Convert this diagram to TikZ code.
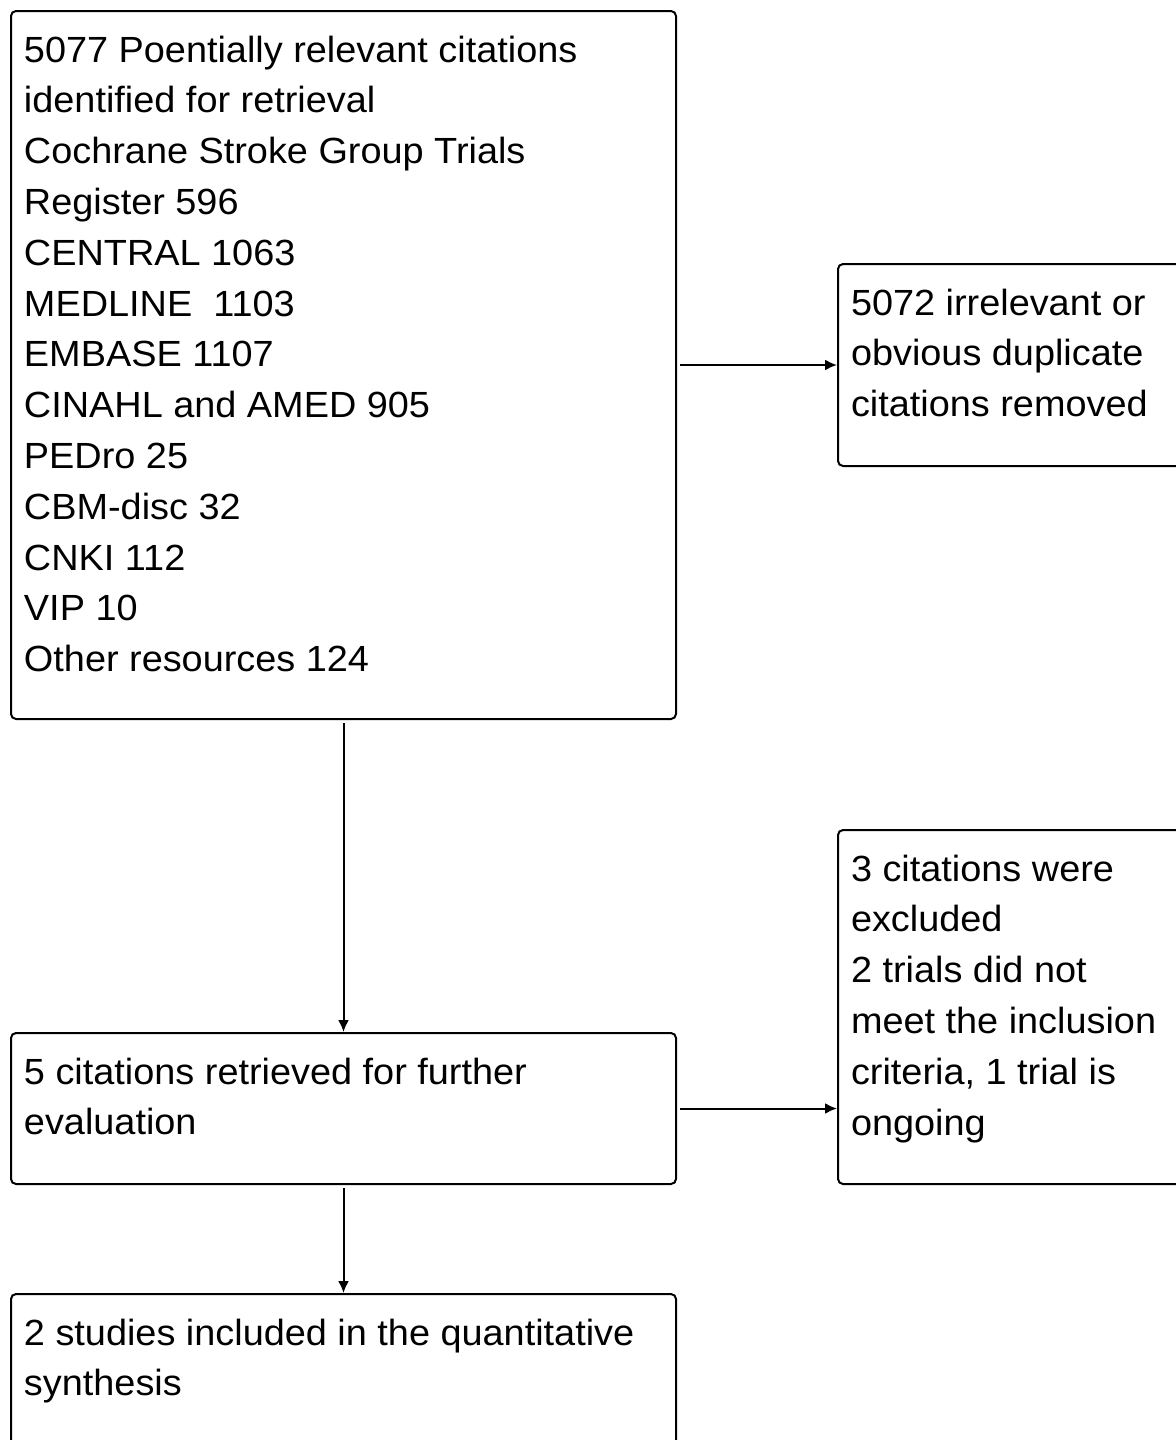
\documentclass[tikz,border=0pt]{standalone}
\usepackage{fontspec}
\setmainfont{Liberation Sans}[FakeStretch=1.04]
\usetikzlibrary{arrows.meta}
\newcommand{\boxtext}[3]{\parbox[t][#2][t]{#1}{\rule{0pt}{25.5pt}#3}}
\begin{document}
\begin{tikzpicture}[x=0.5pt,y=-0.5pt,font=\fontsize{18.2}{25.4}\selectfont,
  box/.style={draw, line width=1pt, rounded corners=2.5pt, anchor=north west, inner xsep=6.5pt, inner ysep=0pt},
  flow/.style={line width=1pt, -{Latex[length=6pt,width=5.5pt]}, shorten <=1.5pt}]
\useasboundingbox (0,0) rectangle (1176,1440);
\node[box] (cit) at (10,10) {\boxtext{319.5pt}{354pt}{5077 Poentially relevant citations\\
identified for retrieval\\
Cochrane Stroke Group Trials\\
Register 596\\
CENTRAL 1063\\
MEDLINE~ 1103\\
EMBASE 1107\\
CINAHL and AMED 905\\
PEDro 25\\
CBM-disc 32\\
CNKI 112\\
VIP 10\\
Other resources 124}};
\node[box] (irr) at (837,263) {\boxtext{167pt}{101pt}{5072 irrelevant or\\
obvious duplicate\\
citations removed}};
\node[box] (ret) at (10,1032) {\boxtext{319.5pt}{75.5pt}{5 citations retrieved for further\\
evaluation}};
\node[box] (excl) at (837,829) {\boxtext{167pt}{177pt}{3 citations were\\
excluded\\
2 trials did not\\
meet the inclusion\\
criteria, 1 trial is\\
ongoing}};
\node[box] (incl) at (10,1293) {\boxtext{319.5pt}{90pt}{2 studies included in the quantitative\\
synthesis}};

\path[draw,flow] (cit.east) -- (irr.west);
\path[draw,flow] (cit.south) -- (ret.north);
\path[draw,flow] (ret.east) -- (ret.east -| excl.west);
\path[draw,flow] (ret.south) -- (incl.north);
\end{tikzpicture}
\end{document}
